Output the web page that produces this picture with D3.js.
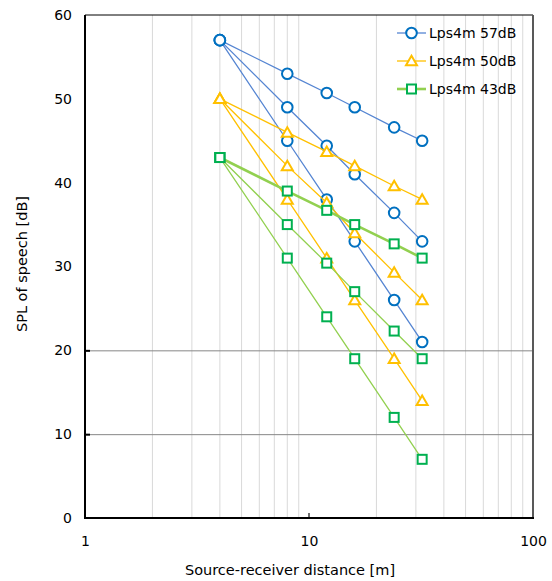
<!DOCTYPE html>
<html>
<head>
<meta charset="utf-8">
<script src="https://cdn.jsdelivr.net/npm/d3@7"></script>
<style>
  html, body { margin: 0; padding: 0; background: #fff; }
  svg { display: block; font-family: "DejaVu Sans", sans-serif; }
</style>
</head>
<body>
<svg id="chart" width="552" height="581"></svg>
<script>
// ---- data ----
const distances = [4, 8, 12, 16, 24, 32];
const lps57_a = [57, 53, 50.7, 49, 46.6, 45];
const lps57_b = [57, 49, 44.4, 41, 36.4, 33];
const lps57_c = [57, 45, 38, 33, 26, 21];
const lps50_a = [50, 46, 43.7, 42, 39.6, 38];
const lps50_b = [50, 42, 37.6, 34, 29.3, 26];
const lps50_c = [50, 38, 31, 26, 19, 14];
const lps43_a = [43, 39, 36.7, 35, 32.7, 31];
const lps43_b = [43, 35, 30.4, 27, 22.3, 19];
const lps43_c = [43, 31, 24, 19, 12, 7];
const legendLabels = ["Lps4m 57dB", "Lps4m 50dB", "Lps4m 43dB"];
const xTickValues = [1, 10, 100];
const yTickValues = [0, 10, 20, 30, 40, 50, 60];
const yGridValues = [10, 20];
const xMinorGrid = [2, 3, 4, 5, 6, 7, 8, 9, 20, 30, 40, 50, 60, 70, 80, 90];
const xTitle = "Source-receiver distance [m]";
const yTitle = "SPL of speech [dB]";

// ---- layout ----
const L = 85, R = 533, T = 15, B = 518;
const svg = d3.select("#chart");
const x = d3.scaleLog().domain([1, 100]).range([L, R]);
const y = d3.scaleLinear().domain([0, 60]).range([B, T]);

// styles per group
const groups = [
  { key: "57", sets: [lps57_a, lps57_b, lps57_c], line: "#5585D2", mark: "#0070C0", shape: "circle", widths: [1.3, 1.3, 1.3] },
  { key: "50", sets: [lps50_a, lps50_b, lps50_c], line: "#FFC000", mark: "#FFC000", shape: "triangle", widths: [1.3, 1.3, 1.3] },
  { key: "43", sets: [lps43_a, lps43_b, lps43_c], line: "#92D050", mark: "#00B050", shape: "square", widths: [2.6, 1.3, 1.3] }
];

// gridlines
svg.append("g").selectAll("line").data(xMinorGrid).join("line")
  .attr("x1", d => x(d)).attr("x2", d => x(d))
  .attr("y1", T).attr("y2", B)
  .attr("stroke", "#d9d9d9").attr("stroke-width", 1);
svg.append("g").selectAll("line").data(yGridValues).join("line")
  .attr("x1", L).attr("x2", R)
  .attr("y1", d => y(d) + 0.5).attr("y2", d => y(d) + 0.5)
  .attr("stroke", "#868686").attr("stroke-width", 1);

// ticks inside
svg.append("g").selectAll("line").data(yGridValues).join("line")
  .attr("x1", L).attr("x2", L + 5)
  .attr("y1", d => y(d) + 0.5).attr("y2", d => y(d) + 0.5)
  .attr("stroke", "#000").attr("stroke-width", 2);
svg.append("line")
  .attr("x1", x(10)).attr("x2", x(10))
  .attr("y1", B).attr("y2", B - 5)
  .attr("stroke", "#404040").attr("stroke-width", 1.5);

// frame
svg.append("line").attr("x1", L).attr("x2", R).attr("y1", T).attr("y2", T).attr("stroke", "#000").attr("stroke-width", 1);
svg.append("line").attr("x1", R).attr("x2", R).attr("y1", T).attr("y2", B).attr("stroke", "#595959").attr("stroke-width", 2);
svg.append("line").attr("x1", L).attr("x2", L).attr("y1", T).attr("y2", B + 1).attr("stroke", "#000").attr("stroke-width", 2);
svg.append("line").attr("x1", L - 1).attr("x2", R + 1).attr("y1", B).attr("y2", B).attr("stroke", "#000").attr("stroke-width", 2);

// axes labels via d3 axes (domain/ticks hidden)
const xAxis = d3.axisBottom(x).tickValues(xTickValues).tickFormat(d3.format("d")).tickSize(0).tickPadding(18);
const gx = svg.append("g").attr("transform", `translate(0,${B})`).call(xAxis);
gx.select(".domain").remove();
gx.selectAll("text").attr("font-size", 14).attr("font-family", "DejaVu Sans").attr("fill", "#000");

const yAxis = d3.axisLeft(y).tickValues(yTickValues).tickSize(0).tickPadding(13);
const gy = svg.append("g").attr("transform", `translate(${L},0)`).call(yAxis);
gy.select(".domain").remove();
gy.selectAll("text").attr("font-size", 14).attr("font-family", "DejaVu Sans").attr("fill", "#000");

// titles
svg.append("text").attr("x", 290).attr("y", 575).attr("text-anchor", "middle")
  .attr("font-size", 14.5).attr("fill", "#000").text(xTitle);
svg.append("text").attr("transform", `translate(27,264) rotate(-90)`).attr("text-anchor", "middle")
  .attr("font-size", 14.5).attr("fill", "#000").text(yTitle);

// marker drawer
function drawMarker(g, shape, cx, cy, color) {
  if (shape === "circle") {
    g.append("circle").attr("cx", cx).attr("cy", cy).attr("r", 5.3)
      .attr("fill", "#fff").attr("stroke", color).attr("stroke-width", 2);
  } else if (shape === "triangle") {
    const h = 9.5, w = 11;
    g.append("path").attr("d", `M${cx},${cy - h * 0.55} L${cx + w / 2},${cy + h * 0.45} L${cx - w / 2},${cy + h * 0.45} Z`)
      .attr("fill", "#fff").attr("stroke", color).attr("stroke-width", 2).attr("stroke-linejoin", "miter");
  } else {
    const s = 9;
    g.append("rect").attr("x", cx - s / 2).attr("y", cy - s / 2).attr("width", s).attr("height", s)
      .attr("fill", "#fff").attr("stroke", color).attr("stroke-width", 2);
  }
}

const line = d3.line().x((d, i) => x(distances[i])).y(d => y(d));

groups.forEach(gr => {
  const g = svg.append("g");
  gr.sets.forEach((vals, k) => {
    g.append("path").datum(vals).attr("d", line)
      .attr("fill", "none").attr("stroke", gr.line).attr("stroke-width", gr.widths[k]);
  });
  gr.sets.forEach(vals => {
    vals.forEach((v, i) => drawMarker(g, gr.shape, x(distances[i]), y(v), gr.mark));
  });
});

// legend
const legY = [33, 61, 89];
groups.forEach((gr, i) => {
  const g = svg.append("g");
  g.append("line").attr("x1", 397).attr("x2", 426).attr("y1", legY[i]).attr("y2", legY[i])
    .attr("stroke", gr.line).attr("stroke-width", gr.widths[0]);
  drawMarker(g, gr.shape, 411.5, legY[i], gr.mark);
  g.append("text").attr("x", 429).attr("y", legY[i]).attr("dy", "0.35em")
    .attr("font-size", 14).attr("fill", "#000").text(legendLabels[i]);
});
</script>
</body>
</html>
